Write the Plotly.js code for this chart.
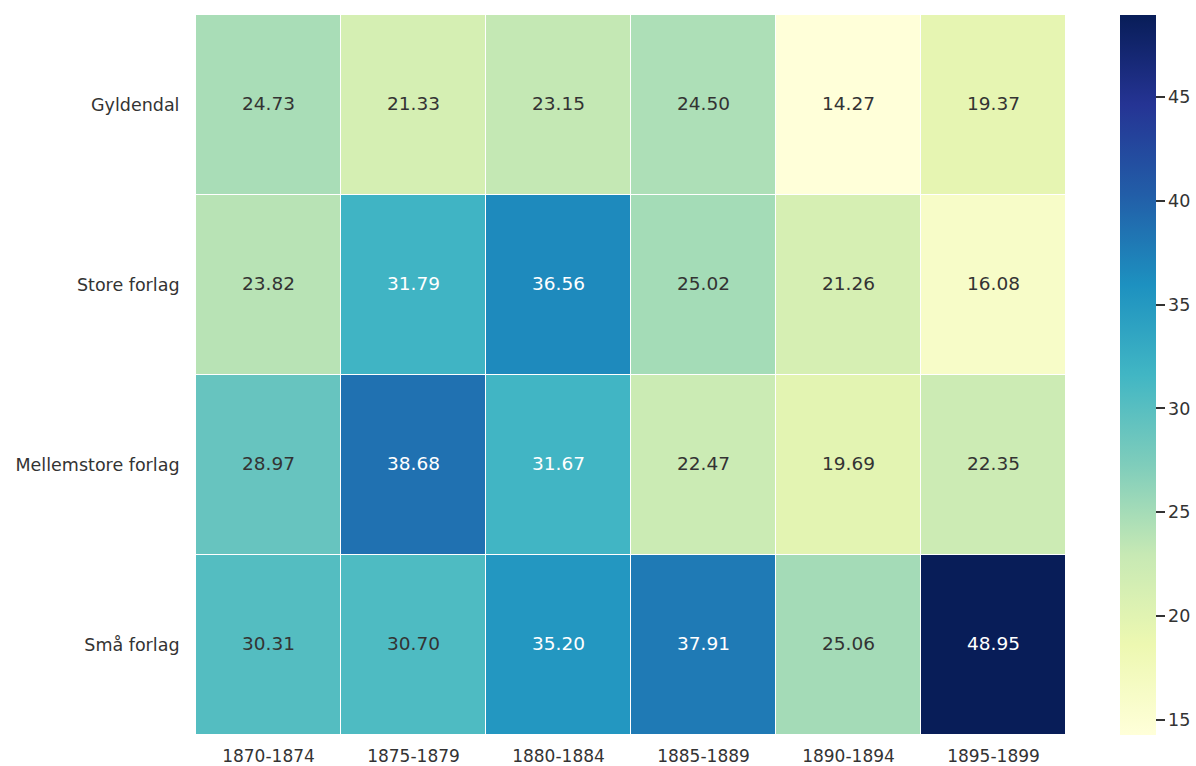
<!DOCTYPE html>
<html>
<head>
<meta charset="utf-8">
<script src="https://cdn.plot.ly/plotly-3.0.1.min.js"></script>
<style>html,body{margin:0;padding:0;background:#fff;}#chart{width:1196px;height:766px;}</style>
</head>
<body>
<div id="chart"></div>
<script>
const periods = ["1870-1874", "1875-1879", "1880-1884", "1885-1889", "1890-1894", "1895-1899"];
const publishers = ["Gyldendal", "Store forlag", "Mellemstore forlag", "Små forlag"];
const gyldendal = [24.73, 21.33, 23.15, 24.50, 14.27, 19.37];
const storeForlag = [23.82, 31.79, 36.56, 25.02, 21.26, 16.08];
const mellemstoreForlag = [28.97, 38.68, 31.67, 22.47, 19.69, 22.35];
const smaaForlag = [30.31, 30.70, 35.20, 37.91, 25.06, 48.95];
const colorbarTicks = [15, 20, 25, 30, 35, 40, 45];

const z = [gyldendal, storeForlag, mellemstoreForlag, smaaForlag];
const zmin = Math.min(...z.flat());
const zmax = Math.max(...z.flat());

const ylgnbu = ["#ffffd9", "#edf8b1", "#c7e9b4", "#7fcdbb", "#41b6c4", "#1d91c0", "#225ea8", "#253494", "#081d58"];
const colorscale = ylgnbu.map((c, i) => [i / (ylgnbu.length - 1), c]);

const annotations = [];
z.forEach((row, i) => {
  row.forEach((v, j) => {
    const frac = (v - zmin) / (zmax - zmin);
    annotations.push({
      x: periods[j], y: publishers[i], xref: 'x', yref: 'y',
      text: v.toFixed(2), showarrow: false, yshift: 2,
      font: {family: 'DejaVu Sans', size: 18.5, color: frac > 0.48 ? '#ffffff' : '#333333'}
    });
  });
});

const data = [{
  type: 'heatmap',
  x: periods, y: publishers, z: z,
  zmin: zmin, zmax: zmax,
  colorscale: colorscale,
  xgap: 1, ygap: 1,
  hoverongaps: false,
  colorbar: {
    x: 1.062, xanchor: 'left', xref: 'paper',
    y: 0, yanchor: 'bottom', len: 1, lenmode: 'fraction',
    xpad: 0, ypad: 0,
    thickness: 36, thicknessmode: 'pixels',
    outlinewidth: 0,
    ticks: 'outside', ticklen: 9, tickwidth: 1.5, tickcolor: '#333333',
    tickvals: colorbarTicks,
    tickfont: {family: 'DejaVu Sans', size: 17.5, color: '#333333'}
  }
}];

const layout = {
  width: 1196, height: 766,
  margin: {l: 196, r: 130, t: 15, b: 31, autoexpand: false},
  paper_bgcolor: '#ffffff', plot_bgcolor: '#ffffff',
  xaxis: {
    type: 'category', showgrid: false, zeroline: false, showline: false,
    ticks: 'outside', ticklen: 6, tickcolor: 'rgba(0,0,0,0)',
    tickfont: {family: 'DejaVu Sans', size: 17, color: '#333333'}
  },
  yaxis: {
    type: 'category', autorange: 'reversed', showgrid: false, zeroline: false, showline: false,
    ticks: 'outside', ticklen: 12, tickcolor: 'rgba(0,0,0,0)',
    tickfont: {family: 'DejaVu Sans', size: 17.5, color: '#333333'}
  },
  annotations: annotations
};

Plotly.newPlot('chart', data, layout, {displayModeBar: false, responsive: false});
</script>
</body>
</html>
